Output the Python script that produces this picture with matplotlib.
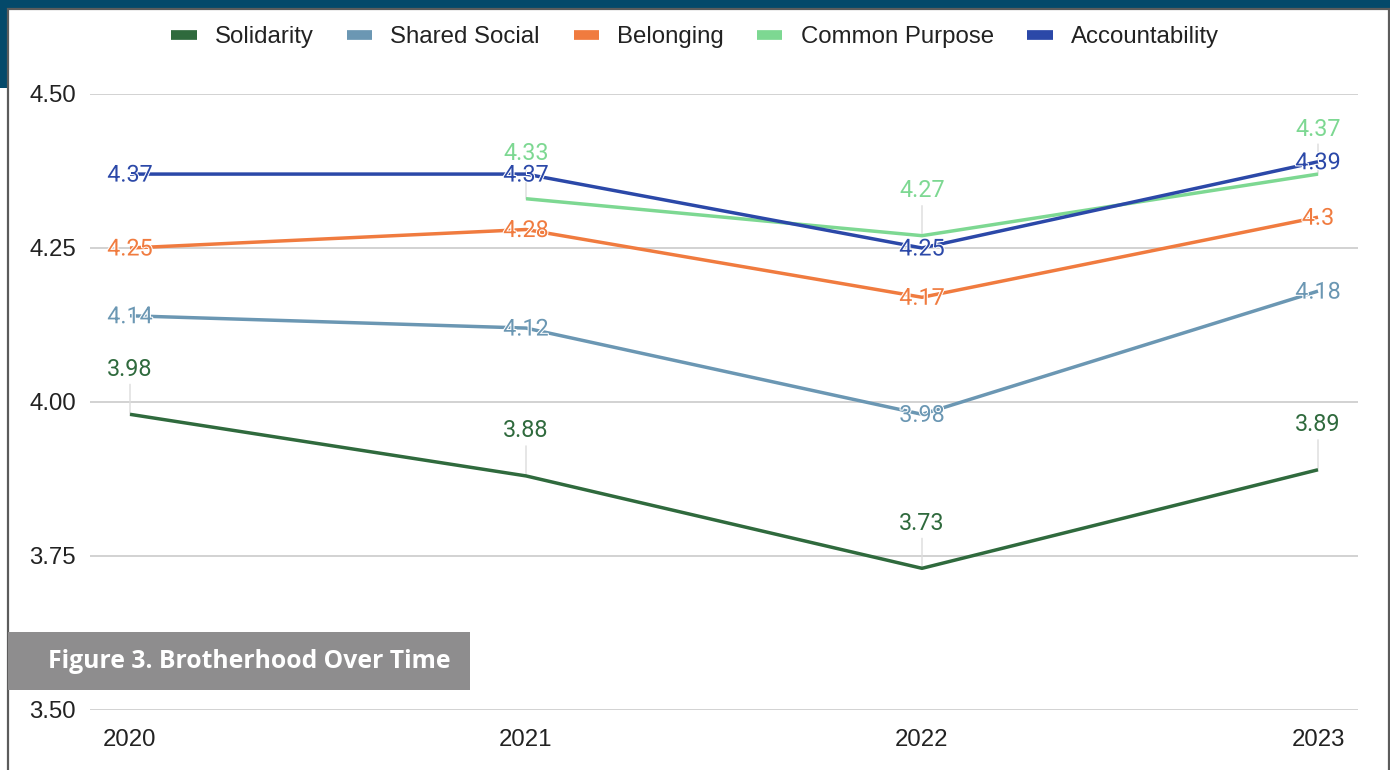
import matplotlib.pyplot as plt
import matplotlib.patheffects as pe
import numpy as np
from matplotlib.lines import Line2D
from matplotlib.patches import Rectangle

years = ["2020", "2021", "2022", "2023"]
series_names = ["Solidarity", "Shared Social", "Belonging", "Common Purpose", "Accountability"]
solidarity = [3.98, 3.88, 3.73, 3.89]
shared_social = [4.14, 4.12, 3.98, 4.18]
belonging = [4.25, 4.28, 4.17, 4.30]
common_purpose = [np.nan, 4.33, 4.27, 4.37]
accountability = [4.37, 4.37, 4.25, 4.39]
value_labels = {
    "Belonging": ["4.25", "4.28", "4.17", "4.3"],
}

colors = ["#2f6a3d", "#6b97b3", "#f07b3f", "#7dd892", "#2b48a8"]
# labels floated above the point (with a leader line) vs. sitting on the point
raised = {"Solidarity": True, "Common Purpose": True}

W, H = 1390, 770
fig = plt.figure(figsize=(W / 100, H / 100), dpi=100)
fig.patch.set_facecolor("white")

# page frame
teal = "#04496a"
fig.add_artist(Rectangle((0, 1 - 9 / H), 1, 9 / H, transform=fig.transFigure,
                         facecolor=teal, edgecolor="none", zorder=0))
fig.add_artist(Rectangle((0, 1 - 88 / H), 7 / W, 88 / H, transform=fig.transFigure,
                         facecolor=teal, edgecolor="none", zorder=0))
fig.add_artist(Rectangle((7.5 / W, -0.05), (1388.5 - 7.5) / W, 1.05 - 9 / H,
                         transform=fig.transFigure, facecolor="none",
                         edgecolor="#5c5c5c", linewidth=1.6, zorder=1))

ax = fig.add_axes([90 / W, 60 / H, 1268 / W, 616 / H])
ax.set_facecolor("none")
x = np.arange(len(years))
ax.set_xlim(-40 / 396, 3 + 40 / 396)
ax.set_ylim(3.5, 4.5)
ax.set_yticks([3.5, 3.75, 4.0, 4.25, 4.5])
ax.set_yticklabels(["3.50", "3.75", "4.00", "4.25", "4.50"])
ax.set_xticks(x)
ax.set_xticklabels(years)
ax.grid(axis="y", color="#cfcfcf", linewidth=1.3)
ax.set_axisbelow(True)
for s in ax.spines.values():
    s.set_visible(False)
ax.tick_params(length=0, labelsize=17.3, labelcolor="#222222")
ax.tick_params(axis="y", pad=10)
ax.tick_params(axis="x", pad=14)
for t in ax.get_xticklabels() + ax.get_yticklabels():
    t.set_fontfamily("Liberation Sans")

all_series = [solidarity, shared_social, belonging, common_purpose, accountability]
halo = [pe.withStroke(linewidth=1.5, foreground="white")]
for name, vals, c in zip(series_names, all_series, colors):
    ax.plot(x, vals, color=c, linewidth=2.5, solid_capstyle="butt", zorder=3)
    texts = value_labels.get(name, [f"{v:.2f}" for v in vals])
    for xi, v, txt in zip(x, vals, texts):
        if np.isnan(v):
            continue
        if raised.get(name):
            ax.annotate("", xy=(xi, v), xytext=(0, 30), textcoords="offset pixels",
                        arrowprops=dict(arrowstyle="-", color="#dcdcdc", lw=1,
                                        shrinkA=0, shrinkB=0), zorder=2)
            ax.annotate(txt, xy=(xi, v), xytext=(0, 45), textcoords="offset pixels",
                        ha="center", va="center", fontsize=16.8, color=c,
                        fontfamily="Roboto", zorder=4)
        else:
            ax.annotate(txt, xy=(xi, v), xytext=(0, -1), textcoords="offset pixels",
                        ha="center", va="center", fontsize=16.8, color=c,
                        fontfamily="Roboto", zorder=4, path_effects=halo)

handles = [Line2D([], [], color=c, linewidth=7, solid_capstyle="butt") for c in colors]
fig.legend(handles, series_names, loc="center", bbox_to_anchor=(0.5, 1 - 37 / H),
           ncol=5, frameon=False, handlelength=1.05, handletextpad=0.75,
           columnspacing=1.4, prop={"family": "Liberation Sans", "size": 17.3},
           labelcolor="#222222")

# caption box
fig.add_artist(Rectangle((8 / W, 1 - 690 / H), 462 / W, 58 / H, transform=fig.transFigure,
                         facecolor="#8e8d8e", edgecolor="none", zorder=5))
fig.text(48 / W, 1 - 662 / H, "Figure 3. Brotherhood Over Time", color="white",
         fontsize=17.8, fontweight="bold", fontfamily="Open Sans", va="center",
         ha="left", zorder=6)

fig.savefig("out.png", dpi=100)
